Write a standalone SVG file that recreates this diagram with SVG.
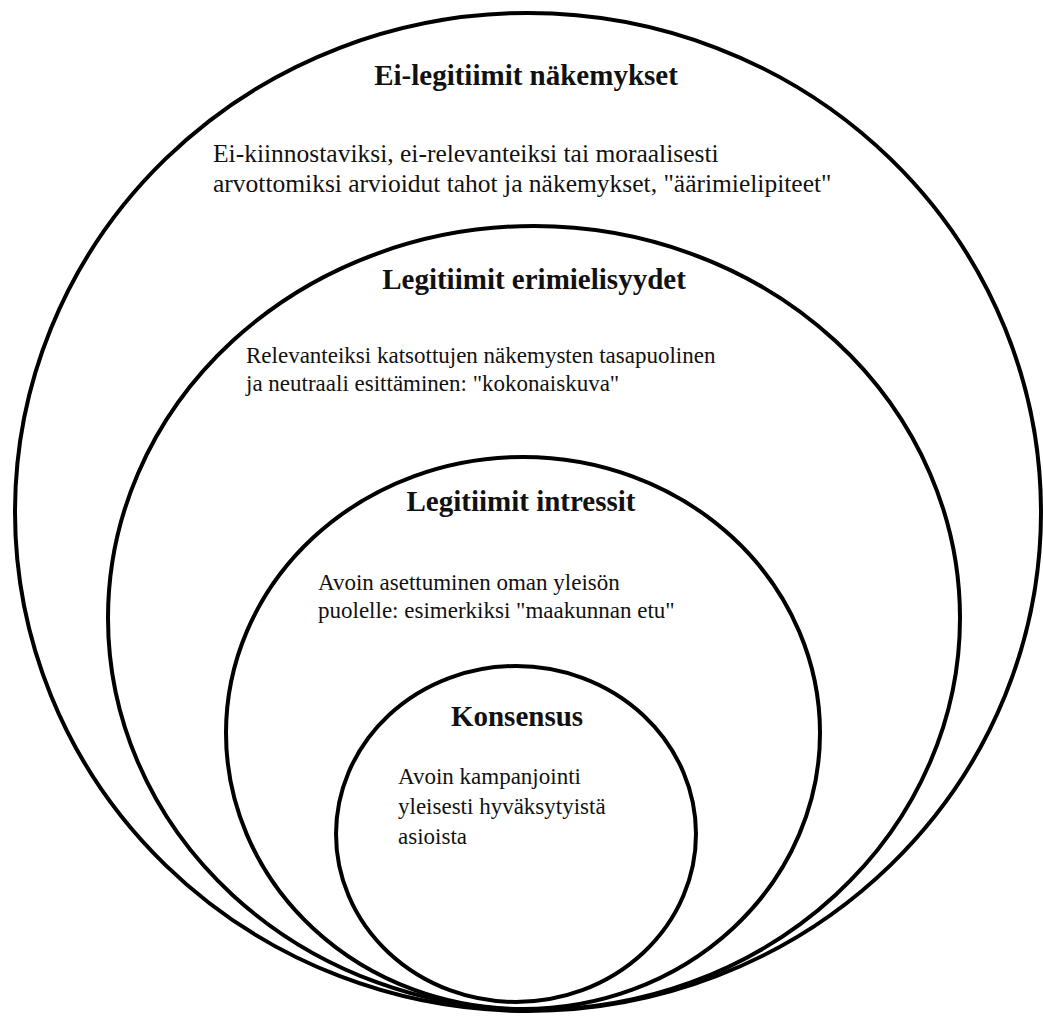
<svg xmlns="http://www.w3.org/2000/svg" width="1043" height="1016" viewBox="0 0 1043 1016">
<style>
.ring{fill:none;stroke:#000;stroke-width:4}
.title{font-family:"Liberation Serif","Times New Roman",serif;font-weight:bold;font-size:29px;fill:#111;text-anchor:middle}
.txt{font-family:"Liberation Serif","Times New Roman",serif;font-size:23px;fill:#111}
.big{font-size:25.5px}
</style>
<rect width="1043" height="1016" fill="#fff"/>
<g id="ring-1">
<ellipse class="ring" cx="528" cy="512" rx="513" ry="499"/>
<text class="title" x="526" y="85">Ei-legitiimit näkemykset</text>
<text class="txt big" x="213" y="162">Ei-kiinnostaviksi, ei-relevanteiksi tai moraalisesti</text>
<text class="txt big" x="213" y="192">arvottomiksi arvioidut tahot ja näkemykset, "äärimielipiteet"</text>
</g>
<g id="ring-2">
<ellipse class="ring" cx="534" cy="618" rx="426" ry="392"/>
<text class="title" x="534" y="289">Legitiimit erimielisyydet</text>
<text class="txt" x="246" y="363">Relevanteiksi katsottujen näkemysten tasapuolinen</text>
<text class="txt" x="246" y="391">ja neutraali esittäminen: "kokonaiskuva"</text>
</g>
<g id="ring-3">
<ellipse class="ring" cx="523" cy="733" rx="297" ry="276"/>
<text class="title" x="521" y="511">Legitiimit intressit</text>
<text class="txt" x="318" y="590">Avoin asettuminen oman yleisön</text>
<text class="txt" x="318" y="618">puolelle: esimerkiksi "maakunnan etu"</text>
</g>
<g id="ring-4">
<ellipse class="ring" cx="516" cy="834" rx="180" ry="168"/>
<text class="title" x="517" y="726">Konsensus</text>
<text class="txt" x="398" y="784">Avoin kampanjointi</text>
<text class="txt" x="398" y="814">yleisesti hyväksytyistä</text>
<text class="txt" x="398" y="844">asioista</text>
</g>
<g id="connectors"/>
</svg>
